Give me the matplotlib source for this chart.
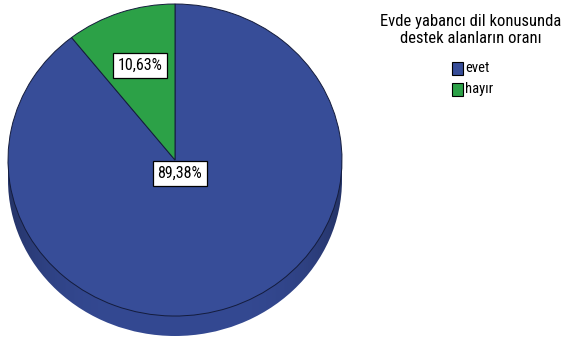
"""Pie chart: share of respondents getting foreign-language help at home."""
import numpy as np
import matplotlib.pyplot as plt
from matplotlib.patches import Ellipse, Rectangle, PathPatch
from matplotlib.path import Path as MPath

labels = ["evet", "hayır"]
shares = [89.38, 10.63]
colors = ["#374d98", "#2ca147"]
title = "Evde yabancı dil konusunda\ndestek alanların oranı"

FONT = ["Roboto Condensed", "DejaVu Sans"]
W, H = 564, 342
RIM_RGB = np.array([52, 73, 146]) / 255
DEPTH = 0.128  # thickness of the pie rim, in radius units

fig = plt.figure(figsize=(W / 100, H / 100), dpi=100)
fig.patch.set_facecolor("white")

# pie axes: spans the ellipse horizontally, top face plus rim vertically
left, right, top, bottom = 8, 342, 4, 336
ax = fig.add_axes([left / W, 1 - bottom / H, (right - left) / W, (bottom - top) / H])

# rim: lower ellipse plus the band joining it to the top face
rim_ell = Ellipse((0, -DEPTH), 2, 2)
rim_rect = Rectangle((-1, -DEPTH), 2, DEPTH)
rim_path = MPath.make_compound_path(
    rim_ell.get_patch_transform().transform_path(rim_ell.get_path()),
    rim_rect.get_patch_transform().transform_path(rim_rect.get_path()),
)
rim = PathPatch(rim_path, facecolor="none", edgecolor="none", transform=ax.transData)
ax.add_patch(rim)
xs = np.linspace(-1, 1, 300)
shade = 1 - 0.3 * np.abs(xs) ** 4
img = np.ones((2, len(xs), 3)) * RIM_RGB * shade[None, :, None]
im = ax.imshow(img, extent=(-1, 1, -1 - DEPTH, 0), aspect="auto", zorder=1,
               interpolation="bilinear")
im.set_clip_path(rim)

wedges, _ = ax.pie(shares, colors=colors, startangle=90, counterclock=False, radius=1,
                   wedgeprops=dict(edgecolor="#141c3c", linewidth=0.7))
for w in wedges:
    w.set_zorder(2)

ax.set_aspect("auto")
ax.set_xlim(-1, 1)
ax.set_ylim(-1 - DEPTH, 1)
ax.axis("off")

# percentage boxes placed along each wedge's bisector
label_dist = [0.09, 0.64]
for w, pct, d in zip(wedges, shares, label_dist):
    mid = np.deg2rad((w.theta1 + w.theta2) / 2)
    ax.text(d * np.cos(mid), d * np.sin(mid), f"{pct:.2f}%".replace(".", ","),
            ha="center", va="center", fontsize=11.5, family=FONT, zorder=5,
            bbox=dict(boxstyle="square,pad=0.3", facecolor="white",
                      edgecolor="black", linewidth=0.9))

# legend block on the right, laid out in pixels
def fx(px):
    return px / W


def fy(py):
    return 1 - py / H


fig.text(fx(471), fy(30), title, ha="center", va="center", fontsize=12,
         family=FONT, linespacing=1.2, multialignment="center")
for i, (lab, c) in enumerate(zip(labels, colors)):
    y0 = 62 + 21 * i
    fig.add_artist(Rectangle((fx(452), fy(y0 + 13)), 11 / W, 13 / H, transform=fig.transFigure,
                             facecolor=c, edgecolor="black", linewidth=0.8))
    fig.text(fx(465), fy(y0 + 6.5), lab, ha="left", va="center", fontsize=10.5, family=FONT)

fig.savefig("out.png", dpi=100, facecolor="white")
